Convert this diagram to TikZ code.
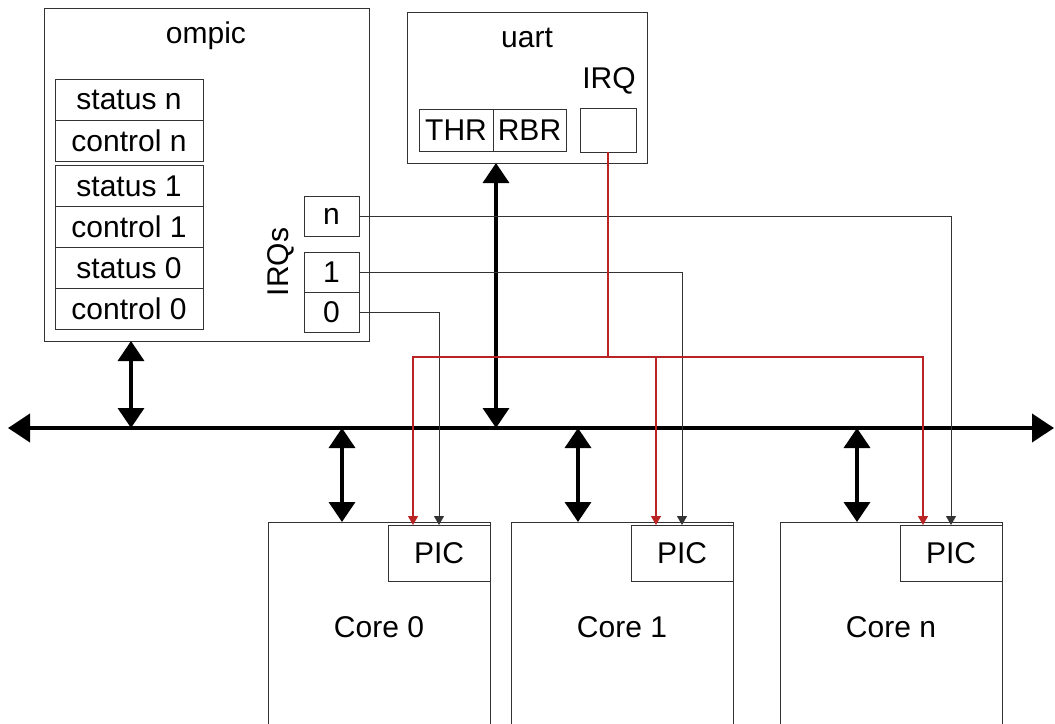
\documentclass[tikz,border=0pt]{standalone}
\usepackage{fontspec}
\setmainfont{Liberation Sans}
\usetikzlibrary{positioning,arrows.meta,calc}
\definecolor{irqred}{RGB}{185,35,35}

\begin{document}
\begin{tikzpicture}[x=1pt,y=-1pt,
    font=\fontsize{30}{36}\selectfont,
    box/.style={draw=black!80,line width=1pt,inner sep=0pt,outer sep=0pt},
    reg/.style={box,minimum width=148pt,minimum height=41pt},
    irqbox/.style={box,minimum width=55pt,minimum height=40pt},
    core/.style={box,minimum width=222pt,minimum height=210pt},
    pic/.style={box,minimum width=102pt,minimum height=56pt},
    busline/.style={line width=4pt,{Triangle[width=28pt,length=22pt]}-{Triangle[width=28pt,length=22pt]}},
    busarrow/.style={line width=3.5pt,{Triangle[width=26pt,length=20pt]}-{Triangle[width=26pt,length=20pt]}},
    irqline/.style={draw=black!80,line width=1pt,-{Triangle[width=10pt,length=9pt]}},
    uartline/.style={draw=irqred,line width=1.3pt,-{Triangle[width=10pt,length=9pt]}}]

    \useasboundingbox (0,0) rectangle (1055,723);

    \node[box,minimum width=325pt,minimum height=333pt] (ompic) at (206.5,174.5) {};
    \node (ompictxt) at (206,36) {ompic};

    \node[reg] (statn) at (129,99.5) {status n};
    \node[reg,below=0pt of statn] (ctrln) {control n};
    \node[reg] (stat1) at (129,186) {status 1};
    \node[reg,below=0pt of stat1] (ctrl1) {control 1};
    \node[reg,below=0pt of ctrl1] (stat0) {status 0};
    \node[reg,below=0pt of stat0] (ctrl0) {control 0};

    \node[irqbox] (irqn) at (331.5,216) {n};
    \node[irqbox] (irq1) at (331.5,272) {1};
    \node[irqbox,below=0pt of irq1] (irq0) {0};
    \node[rotate=90] (irqs) at (281,262) {IRQs};

    \node[box,minimum width=240pt,minimum height=151pt] (uart) at (527,87.5) {};
    \node (uarttxt) at (527,38) {uart};
    \node (irqtxt) at (609,81) {IRQ};
    \node[box,minimum width=74pt,minimum height=42pt] (thr) at (456,130) {THR};
    \node[box,minimum width=73pt,minimum height=42pt,right=0pt of thr] (rbr) {RBR};
    \node[box,minimum width=56pt,minimum height=44pt] (uirq) at (608,130) {};

    \node[core] (core0) at (379,627) {Core 0};
    \node[core] (core1) at (622,627) {Core 1};
    \node[core] (coren) at (891,627) {Core n};
    \node[pic,anchor=north east] (pic0) at ([yshift=-3pt]core0.north east) {PIC};
    \node[pic,anchor=north east] (pic1) at ([yshift=-3pt]core1.north east) {PIC};
    \node[pic,anchor=north east] (picn) at ([yshift=-3pt]coren.north east) {PIC};

    \coordinate (busl) at (8,428);
    \coordinate (busr) at (1054,428);
    \coordinate (bo) at (131,428);
    \coordinate (bu) at (496,428);
    \coordinate (bc0) at (342,428);
    \coordinate (bc1) at (578,428);
    \coordinate (bcn) at (857,428);
    \coordinate (split) at (uirq.south |- 0,357);

    \draw[busline] (busl) -- (busr);
    \draw[busarrow] (ompic.south -| bo) -- (bo);
    \draw[busarrow] (uart.south -| bu) -- (bu);
    \draw[busarrow] (bc0) -- (core0.north -| bc0);
    \draw[busarrow] (bc1) -- (core1.north -| bc1);
    \draw[busarrow] (bcn) -- (coren.north -| bcn);

    \draw[irqline] (irq0.east) -| (pic0.north);
    \draw[irqline] (irq1.east) -| (pic1.north);
    \draw[irqline] (irqn.east) -| (picn.north);

    \draw[irqred,line width=1.3pt] (uirq.south) -- (split);
    \draw[uartline] (split) -| ([xshift=-26pt]pic0.north);
    \draw[uartline] (split) -| ([xshift=-26pt]pic1.north);
    \draw[uartline] (split) -| ([xshift=-28pt]picn.north);
\end{tikzpicture}
\end{document}
